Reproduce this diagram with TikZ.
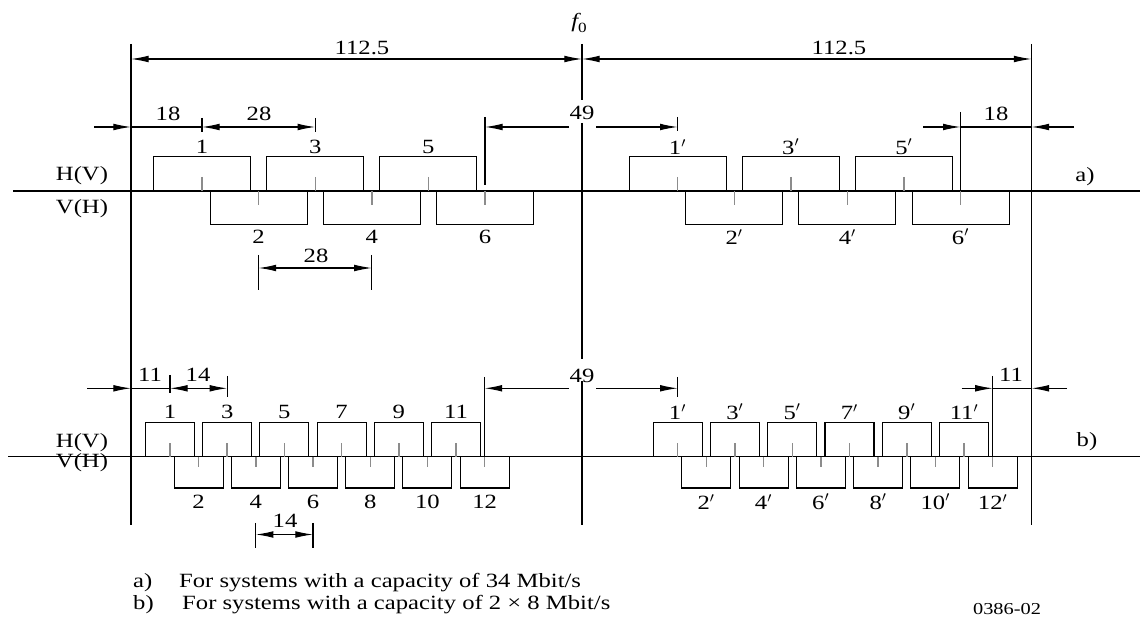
\documentclass[tikz,border=0pt]{standalone}
\usepackage{fontspec}
\setmainfont{Liberation Serif}[FakeStretch=1.22]
\usetikzlibrary{arrows.meta}
\begin{document}
\begin{tikzpicture}[x=0.02cm,y=-0.02cm,
  line width=0.6pt,
  lbl/.style={font=\fontsize{11.5}{13}\selectfont, inner sep=1pt},
  leg/.style={font=\fontsize{11.5}{13}\selectfont, inner sep=0pt, anchor=west},
  tip/.tip={Latex[length=10pt,width=3.8pt]},
  dimto/.style={-tip},
  dimboth/.style={tip-tip},
  chbox/.style={draw, line width=0.6pt},
  ctick/.style={draw=black!45, line width=0.8pt},
  extl/.style={draw, line width=0.6pt},
]
\useasboundingbox (0,0) rectangle (1140,621);

% ---------- main reference lines ----------
\coordinate (Ltop) at (131,44);   \coordinate (Lbot) at (131,525);
\coordinate (Rtop) at (1031.5,44);\coordinate (Rbot) at (1031.5,525);
\coordinate (Ftop) at (582,44);   \coordinate (Fbot) at (582,525);
\coordinate (Fg1a) at (582,100);  \coordinate (Fg1b) at (582,123);
\coordinate (Fg2a) at (582,359);  \coordinate (Fg2b) at (582,381);
\draw (Ltop) -- (Lbot);
\draw (Rtop) -- (Rbot);
\draw (Ftop) -- (Fg1a);
\draw (Fg1b) -- (Fg2a);
\draw (Fg2b) -- (Fbot);

\node[lbl] (f0) at (579,23) {{\itshape f}\raisebox{-0.45ex}{\footnotesize 0}};

% 112.5 dimensions
\coordinate (dL) at (131,59); \coordinate (dF) at (582,59); \coordinate (dR) at (1031.5,59);
\draw[dimboth] (dL) -- (dF);
\draw[dimboth] (dF) -- (dR);
\node[lbl] (w1) at (362,48) {112.5};
\node[lbl] (w2) at (839,48) {112.5};

% ---------- section a) ----------
\coordinate (axA0) at (13,191); \coordinate (axA1) at (1140,191);
\draw (axA0) -- (axA1);
\node[lbl] (hvA) at (82,176) {H(V)};
\node[lbl] (vhA) at (82,209) {V(H)};
\node[lbl] (labA) at (1085,177) {a)};

\foreach \k in {1,...,6} {
  \pgfmathsetmacro\cx{202+56.6*(\k-1)}
  \pgfmathsetmacro\cy{677.6+56.6*(\k-1)}
  \ifodd\k
    \draw[chbox] (\cx-48.5,191) |- (\cx+48.5,156.7) -- (\cx+48.5,191);
    \draw[chbox] (\cy-48.5,191) |- (\cy+48.5,156.7) -- (\cy+48.5,191);
    \draw[ctick] (\cx,177) -- (\cx,191);
    \draw[ctick] (\cy,177) -- (\cy,191);
    \node[lbl] (aL\k) at (\cx,147) {\k};
    \node[lbl] (aR\k) at (\cy,147) {\k$'$};
  \else
    \draw[chbox] (\cx-48.5,191) |- (\cx+48.5,224.7) -- (\cx+48.5,191);
    \draw[chbox] (\cy-48.5,191) |- (\cy+48.5,224.7) -- (\cy+48.5,191);
    \draw[ctick] (\cx,191) -- (\cx,205);
    \draw[ctick] (\cy,191) -- (\cy,205);
    \node[lbl] (aL\k) at (\cx,237) {\k};
    \node[lbl] (aR\k) at (\cy,237) {\k$'$};
  \fi
}

% a) upper dimensions (y = 127)
\coordinate (a18o) at (94,127);   \coordinate (a18L) at (131,127);
\coordinate (ac1) at (202,127);   \coordinate (ac3) at (315.2,127);
\draw[dimto] (a18o) -- (a18L);
\draw (a18L) -- (ac1);
\draw[dimboth] (ac1) -- (ac3);
\draw[extl] (202,118) -- (202,132);
\draw[extl] (315.2,118) -- (315.2,132);
\node[lbl] (a18t) at (168,114) {18};
\node[lbl] (a28t) at (259,114) {28};

\coordinate (ac6) at (485,127); \coordinate (a49l) at (569,127);
\coordinate (a49r) at (596,127); \coordinate (ac1p) at (677.6,127);
\draw[extl] (485,117) -- (485,185);
\draw[extl] (677.6,117) -- (677.6,131);
\draw[dimto] (a49l) -- (ac6);
\draw[dimto] (a49r) -- (ac1p);
\node[lbl] (a49t) at (582,113) {49};

\coordinate (ac6p) at (960.6,127); \coordinate (a18Ro) at (923,127);
\coordinate (a18R) at (1031.5,127); \coordinate (a18Ro2) at (1074,127);
\draw[extl] (960.6,112) -- (960.6,191);
\draw[dimto] (a18Ro) -- (ac6p);
\draw (ac6p) -- (a18R);
\draw[dimto] (a18Ro2) -- (a18R);
\node[lbl] (a18Rt) at (996,114) {18};

% a) lower 28 dimension
\draw[extl] (258.6,255) -- (258.6,290);
\draw[extl] (371.8,255) -- (371.8,290);
\coordinate (ab2) at (258.6,268); \coordinate (ab4) at (371.8,268);
\draw[dimboth] (ab2) -- (ab4);
\node[lbl] (a28b) at (316,256) {28};

% ---------- section b) ----------
\coordinate (axB0) at (8,456.7); \coordinate (axB1) at (1140,456.7);
\draw (axB0) -- (axB1);
\node[lbl] (hvB) at (82,443) {H(V)};
\node[lbl] (vhB) at (82,463) {V(H)};
\node[lbl] (labB) at (1087,442) {b)};

\foreach \k in {1,...,12} {
  \pgfmathsetmacro\cx{170+28.6*(\k-1)}
  \pgfmathsetmacro\cy{677.6+28.65*(\k-1)}
  \ifodd\k
    \draw[chbox] (\cx-24.5,456.7) |- (\cx+24.5,422.5) -- (\cx+24.5,456.7);
    \draw[chbox] (\cy-24.5,456.7) |- (\cy+24.5,422.5) -- (\cy+24.5,456.7);
    \draw[ctick] (\cx,443.5) -- (\cx,456.7);
    \draw[ctick] (\cy,443.5) -- (\cy,456.7);
    \node[lbl] (bL\k) at (\cx,412) {\k};
    \node[lbl] (bR\k) at (\cy,412) {\k$'$};
  \else
    \draw[chbox] (\cx-24.5,456.7) |- (\cx+24.5,488) -- (\cx+24.5,456.7);
    \draw[chbox] (\cy-24.5,456.7) |- (\cy+24.5,488) -- (\cy+24.5,456.7);
    \draw[ctick] (\cx,456.7) -- (\cx,467.5);
    \draw[ctick] (\cy,456.7) -- (\cy,467.5);
    \node[lbl] (bL\k) at (\cx,502) {\k};
    \node[lbl] (bR\k) at (\cy,502) {\k$'$};
  \fi
}

% b) upper dimensions (y = 388.3)
\coordinate (b11o) at (87,388.3);  \coordinate (b11L) at (131,388.3);
\coordinate (bc1) at (170,388.3);  \coordinate (bc3) at (227.2,388.3);
\draw[dimto] (b11o) -- (b11L);
\draw (b11L) -- (bc1);
\draw[dimboth] (bc1) -- (bc3);
\draw[extl] (170,375) -- (170,393);
\draw[extl] (227.2,376) -- (227.2,397);
\node[lbl] (b11t) at (150,375) {11};
\node[lbl] (b14t) at (198,375) {14};

\coordinate (bc12) at (484.6,388.3); \coordinate (b49l) at (569,388.3);
\coordinate (b49r) at (596,388.3);   \coordinate (bc1p) at (677.6,388.3);
\draw[extl] (484.6,377) -- (484.6,456.7);
\draw[extl] (677.6,377) -- (677.6,397);
\draw[dimto] (b49l) -- (bc12);
\draw[dimto] (b49r) -- (bc1p);
\node[lbl] (b49t) at (582,376) {49};

\coordinate (bc12p) at (992.8,388.3); \coordinate (b11Ro) at (961.7,388.3);
\coordinate (b11R) at (1031.5,388.3); \coordinate (b11Ro2) at (1067,388.3);
\draw[extl] (992.8,376) -- (992.8,456.7);
\draw[dimto] (b11Ro) -- (bc12p);
\draw (bc12p) -- (b11R);
\draw[dimto] (b11Ro2) -- (b11R);
\node[lbl] (b11Rt) at (1011,375) {11};

% b) lower 14 dimension
\draw[extl] (255.8,523) -- (255.8,548);
\draw[extl] (313,523) -- (313,548);
\coordinate (bb4) at (255.8,534.5); \coordinate (bb6) at (313,534.5);
\draw[dimboth] (bb4) -- (bb6);
\node[lbl] (b14b) at (285,521) {14};

% ---------- legend ----------
\node[leg] (legA) at (132.7,583) {a)};
\node[leg] (legAt) at (178.6,583) {For systems with a capacity of 34 Mbit/s};
\node[leg] (legB) at (132.7,605) {b)};
\node[leg] (legBt) at (181.7,605) {For systems with a capacity of 2 × 8 Mbit/s};
\node[lbl, font=\fontsize{9.5}{11}\selectfont] (code) at (1007,609) {0386-02};
\end{tikzpicture}
\end{document}
